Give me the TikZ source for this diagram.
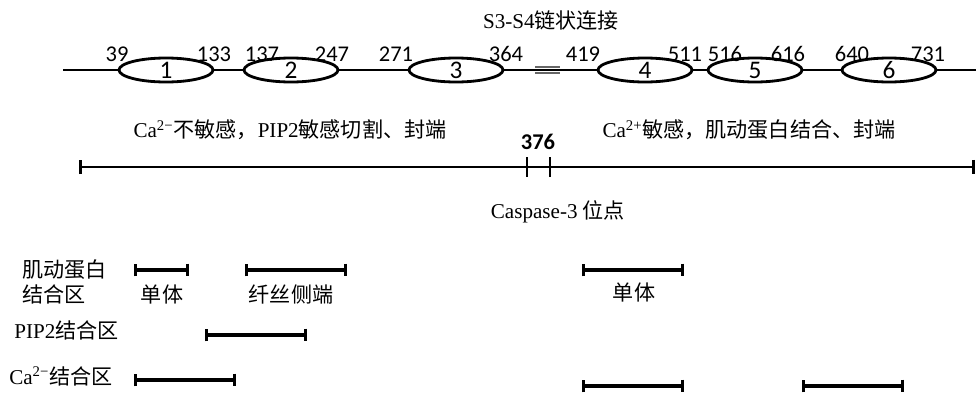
\documentclass[tikz,border=0pt]{standalone}
\usepackage{fontspec}
\setmainfont{Liberation Serif}
\newfontfamily\cjk{Noto Sans CJK SC}
\newfontfamily\numfont{Carlito}
\usepackage{tikz}
\usetikzlibrary{shapes.geometric, arrows.meta}

\begin{document}
\begin{tikzpicture}[
        x=0.025cm, y=-0.025cm,
        gdom/.style={draw, ellipse, line width=2pt,
                    minimum width=2.35cm, minimum height=0.6cm, inner sep=0pt,
                    label={[font=\numfont\fontsize{18}{18}\selectfont]center:#1}},
        numlab/.style={font=\numfont\fontsize{16}{16}\selectfont, inner sep=0pt},
        txt/.style={font=\fontsize{15}{17.7}\selectfont, inner sep=0pt, align=left},
        backbone/.style={line width=2pt},
        linkbar/.style={line width=1.1pt, black!60},
        ruler/.style={{Bar[width=10pt]}-{Bar[width=10pt]}, line width=2pt},
        tick/.style={line width=2pt},
        region/.style={{Bar[width=9pt]}-{Bar[width=9pt]}, line width=2.2pt}
    ]
        \useasboundingbox (0,0) rectangle (976,396);

        \node[txt] (title) at (551,20) {S3-S4{\cjk 链状连接}};

        \node[gdom=1] (e1) at (166,70) {};
        \node[gdom=2] (e2) at (291,70) {};
        \node[gdom=3] (e3) at (456,70) {};
        \node[gdom=4] (e4) at (645,70) {};
        \node[gdom=5] (e5) at (755,70) {};
        \node[gdom=6] (e6) at (889,70) {};
        \coordinate (nterm) at (63,70);
        \coordinate (cterm) at (976,70);
        \coordinate (link) at (547.5,70);

        \draw[backbone] (nterm) -- (e1) (e1) -- (e2) (e2) -- (e3)
            (e3) -- (e4) (e4) -- (e5) (e5) -- (e6) (e6) -- (cterm);
        \draw[linkbar] ([shift={(-12.5,-3)}]link) -- ([shift={(12.5,-3)}]link)
            ([shift={(-12.5,3)}]link) -- ([shift={(12.5,3)}]link);

        \node[numlab] (p39) at (117,54) {39};
        \node[numlab] (p133) at (214,54) {133};
        \node[numlab] (p137) at (262,54) {137};
        \node[numlab] (p247) at (332,54) {247};
        \node[numlab] (p271) at (396,54) {271};
        \node[numlab] (p364) at (506,54) {364};
        \node[numlab] (p419) at (583,54) {419};
        \node[numlab] (p511) at (685,54) {511};
        \node[numlab] (p516) at (725,54) {516};
        \node[numlab] (p616) at (788,54) {616};
        \node[numlab] (p640) at (852,54) {640};
        \node[numlab] (p731) at (928,54) {731};

        \node[txt] (insens) at (290,130) {Ca\textsuperscript{2−}{\cjk 不敏感，}PIP2{\cjk 敏感切割、封端}};
        \node[txt] (sens) at (749,130) {Ca\textsuperscript{2+}{\cjk 敏感，肌动蛋白结合、封端}};

        \coordinate (r0) at (79,167);
        \coordinate (r1) at (527,167);
        \coordinate (r2) at (550,167);
        \coordinate (r3) at (975,167);
        \draw[ruler] (r0) -- (r3);
        \draw[tick] ([yshift=-7]r1) -- ([yshift=7]r1)
            ([yshift=-7]r2) -- ([yshift=7]r2);
        \node[numlab, font=\numfont\bfseries\fontsize{16}{16}\selectfont] (cut) at (538,142) {376};
        \node[txt] (casp) at (558,212) {Caspase-3 {\cjk 位点}};

        \node[txt, anchor=west] (actin) at (22,282) {\cjk 肌动蛋白\\\cjk 结合区};
        \node[txt, anchor=west] (pip) at (14,330) {PIP2{\cjk 结合区}};
        \node[txt, anchor=west] (calc) at (9,376) {Ca\textsuperscript{2−}{\cjk 结合区}};

        \coordinate (a1) at (134,270);
        \coordinate (a2) at (189,270);
        \coordinate (b1) at (245,270);
        \coordinate (b2) at (347,270);
        \coordinate (c1) at (582,270);
        \coordinate (c2) at (684,270);
        \coordinate (d1) at (205,335);
        \coordinate (d2) at (307,335);
        \coordinate (f1) at (134,380);
        \coordinate (f2) at (236,380);
        \coordinate (g1) at (582,386);
        \coordinate (g2) at (684,386);
        \coordinate (h1) at (802,386);
        \coordinate (h2) at (904,386);

        \draw[region] (a1) -- (a2);
        \draw[region] (b1) -- (b2);
        \draw[region] (c1) -- (c2);
        \draw[region] (d1) -- (d2);
        \draw[region] (f1) -- (f2);
        \draw[region] (g1) -- (g2);
        \draw[region] (h1) -- (h2);

        \node[txt] (mono1) at (162,295) {\cjk 单体};
        \node[txt] (fil) at (291,295) {\cjk 纤丝侧端};
        \node[txt] (mono2) at (634,293) {\cjk 单体};
    \end{tikzpicture}
\end{document}
